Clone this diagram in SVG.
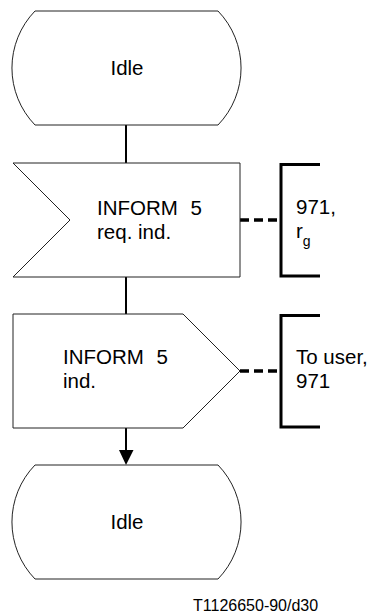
<svg xmlns="http://www.w3.org/2000/svg" width="374" height="615" viewBox="0 0 374 615">
<style>
.shape{fill:#fff;stroke:#222;stroke-width:1}
.flow{stroke:#000;stroke-width:2;fill:none}
.dash{stroke:#000;stroke-width:3.5;stroke-dasharray:9 5;fill:none}
.brk{stroke:#000;stroke-width:3;fill:none}
text{font-family:"Liberation Sans",Arial,sans-serif;font-size:20.5px;fill:#000}
.foot{font-size:16px}
.sub{font-size:14px}
</style>
<rect width="374" height="615" fill="#fff"/>
<g id="connectors">
<line class="flow" x1="126" y1="125" x2="126" y2="163"/>
<line class="flow" x1="126" y1="277" x2="126" y2="314"/>
<line class="flow" x1="126" y1="428" x2="126" y2="451"/>
<path d="M119,450 L133.5,450 L126,465 Z" fill="#000"/>
<line class="dash" x1="240" y1="220" x2="280" y2="220"/>
<line class="dash" x1="240" y1="371" x2="280" y2="371"/>
</g>
<g id="idle1">
<path class="shape" d="M35,11 L218,11 A82,82 0 0 1 218,125 L35,125 A82,82 0 0 1 35,11 Z"/>
<text x="127" y="75" text-anchor="middle">Idle</text>
</g>
<g id="input">
<path class="shape" d="M13,163 L240,163 L240,277 L13,277 L70,220 Z"/>
<text x="97" y="215">INFORM<tspan x="190.5">5</tspan></text>
<text x="97" y="239">req. ind.</text>
</g>
<g id="comment1">
<path class="brk" d="M320,164.5 L281,164.5 L281,276 L320,276"/>
<text x="296" y="214">971,</text>
<text x="296" y="238">r<tspan class="sub" dy="8">g</tspan></text>
</g>
<g id="output">
<path class="shape" d="M13,314 L183,314 L240,371 L183,428 L13,428 Z"/>
<text x="63" y="364">INFORM<tspan x="156.5">5</tspan></text>
<text x="63" y="388">ind.</text>
</g>
<g id="comment2">
<path class="brk" d="M320,315.5 L281,315.5 L281,427 L320,427"/>
<text x="296" y="364">To user,</text>
<text x="296" y="388">971</text>
</g>
<g id="idle2">
<path class="shape" d="M35,465 L218,465 A82,82 0 0 1 218,579 L35,579 A82,82 0 0 1 35,465 Z"/>
<text x="127" y="529" text-anchor="middle">Idle</text>
</g>
<text class="foot" x="193" y="611">T1126650-90/d30</text>
</svg>
